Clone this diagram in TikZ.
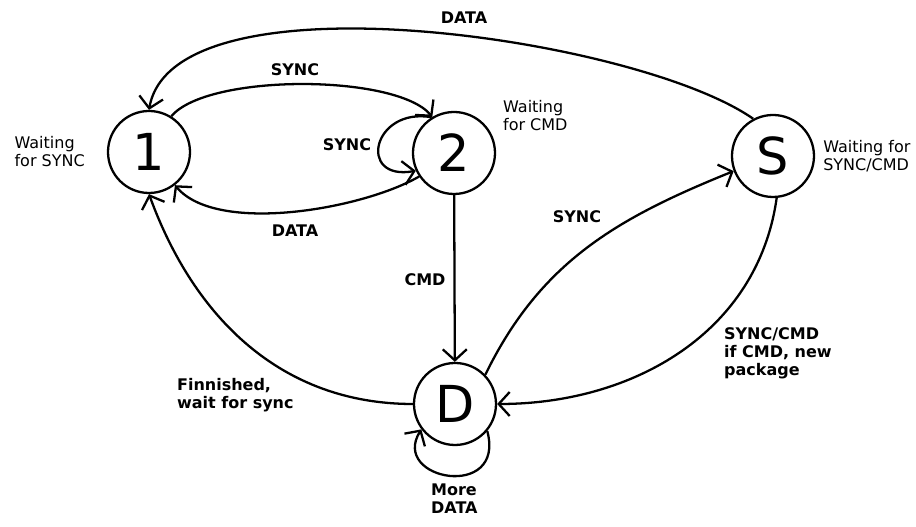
\documentclass[tikz,border=0pt]{standalone}
\usepackage{fontspec}
\setmainfont{DejaVu Sans}
\usepackage{tikz}
\usetikzlibrary{arrows.meta}
\usetikzlibrary{positioning}
\tikzset{
    >={Straight Barb[length=2.2mm,width=4.8mm]},
    state/.style={circle, draw=black, minimum size=1.64cm, inner sep=0pt,
        font=\fontsize{29}{30}\selectfont},
    trans/.style={draw=black, ->},
    translabel/.style={font=\fontsize{9.1}{10.2}\selectfont\bfseries,
        align=left, inner sep=0pt},
    statenote/.style={font=\fontsize{9.1}{10.2}\selectfont,
        align=left, inner sep=0pt},
}

\begin{document}
\begin{tikzpicture}[line width=1.3pt]
\useasboundingbox (0,0) rectangle (18.32,10.54);
% \draw[step=0.5cm, very thin, gray] (0,0) grid (18.32,10.54);
\node[state] (n1) at (2.98,7.50) {1};
\node[state] (n2) at (9.08,7.48) {2};
\node[state] (nS) at (15.46,7.42) {S};
\node[state] (nD) at (9.10,2.46) {D};
\node[statenote, left=0.42cm of n1] (w1) {Waiting\\for SYNC};
\node[statenote, anchor=west] (w2) at (10.04,8.22) {Waiting\\for CMD};
\node[statenote, right=0.14cm of nS] (wS) {Waiting for\\SYNC/CMD};
% transitions
\draw[trans] (nS.118) to[out=145,in=80,looseness=0.6] (n1.north);
\node[translabel] (lData1) at (9.28,10.18) {DATA};
\draw[trans] (n1.58) to[out=50,in=130,looseness=0.55] (n2.121);
\node[translabel] (lSync1) at (5.90,9.14) {SYNC};
\draw[trans] (n2.122) .. controls +(170:1.2) and +(190:1.2) .. (n2.205);
\node[translabel] (lSync2) at (6.94,7.64) {SYNC};
\draw[trans] (n2.214) to[out=210,in=310,looseness=0.68] (n1.308);
\node[translabel] (lData2) at (5.90,5.92) {DATA};
\draw[trans] (n2) -- (nD);
\node[translabel] (lCmd) at (8.50,4.94) {CMD};
\draw[trans] (nD.44) to[out=64,in=202] (nS.201);
\node[translabel] (lSync3) at (11.54,6.20) {SYNC};
\draw[trans] (nS.275) to[out=262,in=0] (nD.east);
\node[translabel, anchor=west] (lSyncCmd) at (14.46,3.48) {SYNC/CMD\\if CMD, new\\package};
\draw[trans] (nD.west) to[out=180,in=290] (n1.south);
\node[translabel, anchor=west] (lDone) at (3.52,2.64) {Finnished,\\wait for sync};
\draw[trans] (nD.320) .. controls +(285:1.45) and +(238:1.2) .. (nD.217);
\node[translabel, anchor=west] (lMore) at (8.60,0.56) {More\\DATA};
\end{tikzpicture}
\end{document}
